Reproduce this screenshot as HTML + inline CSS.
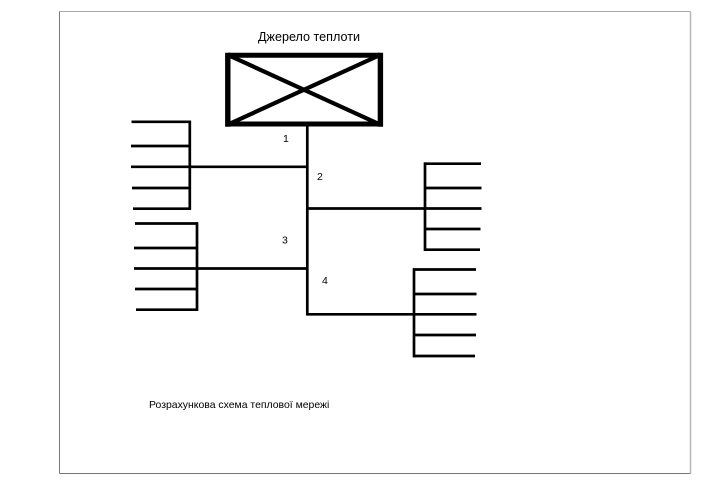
<!DOCTYPE html>
<html><head><meta charset="utf-8">
<style>
html,body{margin:0;padding:0;background:#fff}
svg{display:block}
text{font-family:"Liberation Sans",sans-serif;fill:#000}
</style></head>
<body>
<svg width="702" height="484" viewBox="0 0 702 484" xmlns="http://www.w3.org/2000/svg">
<rect width="702" height="484" fill="#fff"/>
<path d="M59.5 11.5H690.5" stroke="#a8a8a8" fill="none"/>
<path d="M59.5 11.5V473.5" stroke="#777" fill="none"/>
<path d="M690.5 11.5V473.5" stroke="#b8b8b8" fill="none" stroke-width="1.5"/>
<path d="M59.5 473.5H690.5" stroke="#777" fill="none"/>
<path d="M228 55.2H380.2M228 124H380.2" stroke="#000" stroke-width="5" fill="none"/>
<path d="M227.8 52.7V126.7M380.4 52.7V126.7" stroke="#000" stroke-width="5.4" fill="none"/>
<path d="M228 55L380 124.5M380 55L228 124.5" stroke="#000" stroke-width="4.2" fill="none"/>
<g stroke="#000" stroke-width="2.7" fill="none">
<path d="M307.3 126V315.2"/>
<path d="M189.8 120.6V210"/>
<path d="M131.5 121.8H191M131 146H190M131 166.8H307M132 188H190M133 208.7H191"/>
<path d="M197 222.2V311"/>
<path d="M135 223.5H198M134 248H197M134 268.5H307M135 289H197M136 309.7H198"/>
<path d="M425 162.4V251"/>
<path d="M424 163.7H481M425 188H481.5M307 208.5H481.5M425 229H480.5M424 249.7H480"/>
<path d="M414 268.2V357.2"/>
<path d="M413 269.5H476M414 294H476.5M306 314.3H476.5M414 335H476M413 356H475"/>
</g>
<text x="258" y="41" font-size="12.6">Джерело теплоти</text>
<text x="283" y="142" font-size="10.5">1</text>
<text x="317" y="180" font-size="10.5">2</text>
<text x="282" y="243.5" font-size="10.5">3</text>
<text x="322" y="284" font-size="10.5">4</text>
<text x="149" y="408" font-size="10.45">Розрахункова схема теплової мережі</text>
</svg>
</body></html>
